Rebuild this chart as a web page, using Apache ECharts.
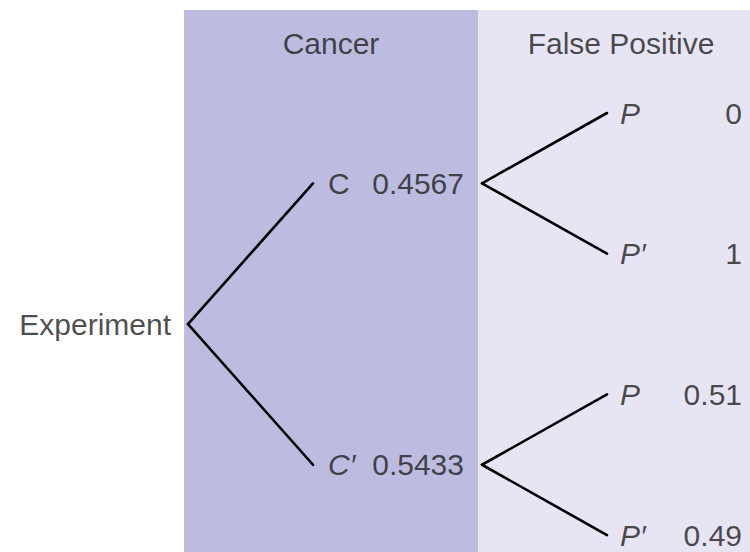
<!DOCTYPE html>
<html><head><meta charset="utf-8">
<script src="https://cdn.jsdelivr.net/npm/echarts@6/dist/echarts.min.js"></script>
<style>html,body{margin:0;padding:0;background:#fff}#c{width:750px;height:552px}</style>
</head><body><div id="c"></div>
<script>
// ---- data ----
const levelNames = ['Experiment', 'Cancer', 'False Positive'];
const cancerLabels = ['C', 'C\u2032'];
const cancerItalic = [false, true];
const cancerProbs = ['0.4567', '0.5433'];
const fpLabels = ['P', 'P\u2032', 'P', 'P\u2032'];
const fpProbs = ['0', '1', '0.51', '0.49'];

// ---- layout (pixel space of the 750x552 canvas) ----
const L = {
  rootTextRight: 171, rootX: 188,
  lvl1Left: 313, lvl1LabelX: 328, lvl1ProbRight: 464, lvl1Right: 482,
  lvl2Left: 607, lvl2LabelX: 620, lvl2ProbRight: 742,
  leafTop: 113, leafStep: 140.7,
  bandTop: 10, band1Left: 184, band1Right: 478, band2Right: 750,
  headerY: 43, header2X: 621
};
const FONT = 'Liberation Sans, Arial, sans-serif';
const FS = 30;

// leaves -> parent nodes -> root
const leafY = fpLabels.map((_, i) => L.leafTop + i * L.leafStep);
const midY = cancerLabels.map((_, i) => (leafY[2 * i] + leafY[2 * i + 1]) / 2);
const rootY = (midY[0] + midY[midY.length - 1]) / 2;

const lineData = [];
midY.forEach(y => lineData.push({coords: [[L.rootX, rootY], [L.lvl1Left, y]]}));
leafY.forEach((y, i) => lineData.push({coords: [[L.lvl1Right, midY[Math.floor(i / 2)]], [L.lvl2Left, y]]}));

function txt(x, y, text, align, italic) {
  return {value: [x, y], label: {show: true, formatter: text, align: align, fontStyle: italic ? 'italic' : 'normal'}};
}
const texts = [];
texts.push(txt(L.rootTextRight, rootY, levelNames[0], 'right', false));
texts.push(txt((L.band1Left + L.band1Right) / 2, L.headerY, levelNames[1], 'center', false));
texts.push(txt(L.header2X, L.headerY, levelNames[2], 'center', false));
cancerLabels.forEach((t, i) => {
  texts.push(txt(L.lvl1LabelX, midY[i], t, 'left', cancerItalic[i]));
  texts.push(txt(L.lvl1ProbRight, midY[i], cancerProbs[i], 'right', false));
});
fpLabels.forEach((t, i) => {
  texts.push(txt(L.lvl2LabelX, leafY[i], t, 'left', true));
  texts.push(txt(L.lvl2ProbRight, leafY[i], fpProbs[i], 'right', false));
});

const chart = echarts.init(document.getElementById('c'), null, {renderer: 'svg'});
chart.setOption({
  animation: false,
  backgroundColor: '#ffffff',
  grid: {left: 0, right: 0, top: 0, bottom: 0},
  xAxis: {type: 'value', min: 0, max: 750, show: false},
  yAxis: {type: 'value', min: 0, max: 552, inverse: true, show: false},
  series: [
    {
      type: 'scatter', data: [], silent: true,
      markArea: {
        silent: true,
        data: [
          [{xAxis: L.band1Left, yAxis: L.bandTop, itemStyle: {color: '#bdbbdf'}}, {xAxis: L.band1Right, yAxis: 552}],
          [{xAxis: L.band1Right, yAxis: L.bandTop, itemStyle: {color: '#e7e5f3'}}, {xAxis: L.band2Right, yAxis: 552}]
        ]
      }
    },
    {
      type: 'lines', coordinateSystem: 'cartesian2d', silent: true,
      lineStyle: {color: '#000', width: 2.6, opacity: 1, cap: 'round', join: 'round'},
      data: lineData
    },
    {
      type: 'scatter', symbolSize: 0, silent: true,
      label: {show: true, position: 'inside', verticalAlign: 'middle', color: '#1e1e1e', fontSize: FS, fontFamily: FONT},
      data: texts
    }
  ]
});
</script></body></html>
